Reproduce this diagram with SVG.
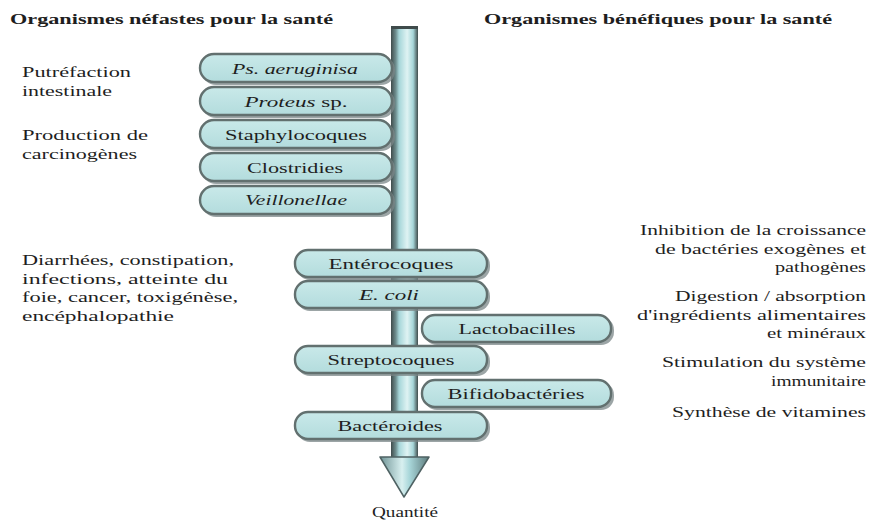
<svg xmlns="http://www.w3.org/2000/svg" width="872" height="522" viewBox="0 0 872 522">
<defs>
<linearGradient id="shaft" x1="0" y1="0" x2="1" y2="0">
<stop offset="0" stop-color="#3f4b4b"/>
<stop offset="0.18" stop-color="#6f8f90"/>
<stop offset="0.3" stop-color="#a6d6d9"/>
<stop offset="0.6" stop-color="#dff3f3"/>
<stop offset="0.82" stop-color="#a6d6d9"/>
<stop offset="1" stop-color="#3f4b4b"/>
</linearGradient>
<linearGradient id="head" x1="0" y1="0" x2="1" y2="0">
<stop offset="0" stop-color="#6f9496"/>
<stop offset="0.45" stop-color="#d8f0f0"/>
<stop offset="0.6" stop-color="#a9d7da"/>
<stop offset="1" stop-color="#5d7b7c"/>
</linearGradient>
<linearGradient id="pill" x1="0" y1="0" x2="0" y2="1">
<stop offset="0" stop-color="#c9e9e9"/>
<stop offset="1" stop-color="#b3dcdd"/>
</linearGradient>
</defs>
<style>
.t{font-family:"Liberation Serif","Times New Roman",serif;fill:#1e1e1e;}
.h{font-size:15.5px;font-weight:bold;}
.s{font-size:15.5px;}
.b{font-size:15.5px;text-anchor:middle;}
.r{text-anchor:end;}
.i{font-style:italic;}
.sh{fill:#7b8788;opacity:0.75;}
.pl{fill:url(#pill);stroke:#62706f;stroke-width:2.4;}
</style>
<rect width="872" height="522" fill="#ffffff"/>

<!-- titles -->
<text class="t h" x="10" y="24" textLength="323" lengthAdjust="spacingAndGlyphs">Organismes néfastes pour la santé</text>
<text class="t h" x="484" y="24" textLength="348" lengthAdjust="spacingAndGlyphs">Organismes bénéfiques pour la santé</text>

<!-- axis arrow -->
<g id="axis">
<rect x="391" y="27" width="27" height="432" fill="url(#shaft)"/>
<rect x="391" y="26" width="27" height="3" fill="#3f4b4b"/>
<polygon points="380,457 429,457 404,497" fill="url(#head)" stroke="#4f6263" stroke-width="1.5" stroke-linejoin="round"/>
</g>
<text class="t s" x="405" y="517" text-anchor="middle" textLength="66" lengthAdjust="spacingAndGlyphs">Quantité</text>

<!-- left descriptions -->
<g class="t s">
<text x="22" y="77" textLength="109" lengthAdjust="spacingAndGlyphs">Putréfaction</text>
<text x="22" y="95.5" textLength="90" lengthAdjust="spacingAndGlyphs">intestinale</text>
<text x="22" y="140" textLength="126" lengthAdjust="spacingAndGlyphs">Production de</text>
<text x="22" y="158.5" textLength="115" lengthAdjust="spacingAndGlyphs">carcinogènes</text>
<text x="22" y="265" textLength="212" lengthAdjust="spacingAndGlyphs">Diarrhées, constipation,</text>
<text x="22" y="283.5" textLength="206" lengthAdjust="spacingAndGlyphs">infections, atteinte du</text>
<text x="22" y="302" textLength="216" lengthAdjust="spacingAndGlyphs">foie, cancer, toxigénèse,</text>
<text x="22" y="320.5" textLength="152" lengthAdjust="spacingAndGlyphs">encéphalopathie</text>
</g>

<!-- right descriptions -->
<g class="t s r">
<text x="866" y="235" textLength="226" lengthAdjust="spacingAndGlyphs">Inhibition de la croissance</text>
<text x="866" y="253.5" textLength="211" lengthAdjust="spacingAndGlyphs">de bactéries exogènes et</text>
<text x="866" y="272" textLength="91" lengthAdjust="spacingAndGlyphs">pathogènes</text>
<text x="866" y="301" textLength="191" lengthAdjust="spacingAndGlyphs">Digestion / absorption</text>
<text x="866" y="319.5" textLength="229" lengthAdjust="spacingAndGlyphs">d'ingrédients alimentaires</text>
<text x="866" y="338" textLength="99" lengthAdjust="spacingAndGlyphs">et minéraux</text>
<text x="866" y="367" textLength="204" lengthAdjust="spacingAndGlyphs">Stimulation du système</text>
<text x="866" y="385.5" textLength="95" lengthAdjust="spacingAndGlyphs">immunitaire</text>
<text x="866" y="417" textLength="194" lengthAdjust="spacingAndGlyphs">Synthèse de vitamines</text>
</g>

<!-- harmful organisms -->
<g id="ps-aeruginisa">
<rect class="sh" x="202" y="56" width="193" height="29" rx="14"/>
<rect class="pl" x="200" y="54" width="192" height="28" rx="14"/>
<text class="t b i" x="295" y="74" textLength="126" lengthAdjust="spacingAndGlyphs">Ps. aeruginisa</text>
</g>
<g id="proteus">
<rect class="sh" x="202" y="89" width="193" height="29" rx="14"/>
<rect class="pl" x="200" y="87" width="192" height="28" rx="14"/>
<text class="t b" x="296" y="107" textLength="103" lengthAdjust="spacingAndGlyphs"><tspan font-style="italic">Proteus</tspan> sp.</text>
</g>
<g id="staphylocoques">
<rect class="sh" x="202" y="122" width="193" height="29" rx="14"/>
<rect class="pl" x="200" y="120" width="192" height="28" rx="14"/>
<text class="t b" x="296" y="140" textLength="142" lengthAdjust="spacingAndGlyphs">Staphylocoques</text>
</g>
<g id="clostridies">
<rect class="sh" x="202" y="155" width="193" height="29" rx="14"/>
<rect class="pl" x="200" y="153" width="192" height="28" rx="14"/>
<text class="t b" x="295" y="173" textLength="96" lengthAdjust="spacingAndGlyphs">Clostridies</text>
</g>
<g id="veillonellae">
<rect class="sh" x="202" y="188" width="193" height="29" rx="14"/>
<rect class="pl" x="200" y="186" width="192" height="28" rx="14"/>
<text class="t b i" x="296" y="205" textLength="102" lengthAdjust="spacingAndGlyphs">Veillonellae</text>
</g>

<!-- lower organisms -->
<g id="enterocoques">
<rect class="sh" x="297" y="252" width="193" height="28" rx="13"/>
<rect class="pl" x="295" y="250" width="192" height="27" rx="13"/>
<text class="t b" x="391" y="269" textLength="125" lengthAdjust="spacingAndGlyphs">Entérocoques</text>
</g>
<g id="e-coli">
<rect class="sh" x="297" y="283" width="193" height="28" rx="13"/>
<rect class="pl" x="295" y="281" width="192" height="27" rx="13"/>
<text class="t b i" x="389" y="300" textLength="60" lengthAdjust="spacingAndGlyphs">E. coli</text>
</g>
<g id="lactobacilles">
<rect class="sh" x="424" y="317" width="190" height="28" rx="13"/>
<rect class="pl" x="422" y="315" width="189" height="27" rx="13"/>
<text class="t b" x="517" y="334" textLength="117" lengthAdjust="spacingAndGlyphs">Lactobacilles</text>
</g>
<g id="streptocoques">
<rect class="sh" x="297" y="348" width="193" height="28" rx="13"/>
<rect class="pl" x="295" y="346" width="192" height="27" rx="13"/>
<text class="t b" x="391" y="365" textLength="127" lengthAdjust="spacingAndGlyphs">Streptocoques</text>
</g>
<g id="bifidobacteries">
<rect class="sh" x="424" y="382" width="190" height="28" rx="13"/>
<rect class="pl" x="422" y="380" width="189" height="27" rx="13"/>
<text class="t b" x="516" y="399" textLength="137" lengthAdjust="spacingAndGlyphs">Bifidobactéries</text>
</g>
<g id="bacteroides">
<rect class="sh" x="297" y="414" width="193" height="28" rx="13"/>
<rect class="pl" x="295" y="412" width="192" height="27" rx="13"/>
<text class="t b" x="390" y="431" textLength="105" lengthAdjust="spacingAndGlyphs">Bactéroides</text>
</g>
</svg>
